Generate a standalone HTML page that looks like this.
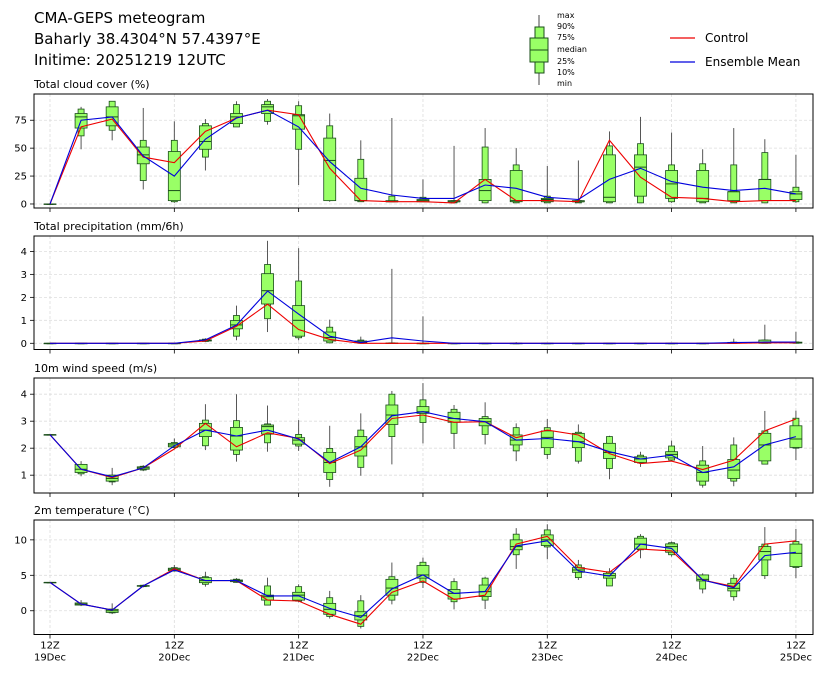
<!DOCTYPE html>
<html><head><meta charset="utf-8"><style>
body{margin:0;background:#fff;font-family:"Liberation Sans","DejaVu Sans",sans-serif}
svg text{font-family:"DejaVu Sans","Liberation Sans",sans-serif}
</style></head><body>
<svg id="chart" width="826" height="678" viewBox="0 0 826 678" xmlns="http://www.w3.org/2000/svg">
<text x="34" y="23" font-size="15">CMA-GEPS meteogram</text>
<text x="34" y="44" font-size="15">Baharly 38.4304°N 57.4397°E</text>
<text x="34" y="65" font-size="15">Initime: 20251219 12UTC</text>
<g>
<line x1="539" y1="15" x2="539" y2="85" stroke="#444" stroke-width="1"/>
<rect x="535" y="27" width="9" height="46" fill="#99ff66" stroke="#1a4d1a"/>
<rect x="530" y="38" width="18" height="24" fill="#99ff66" stroke="#1a4d1a"/>
<line x1="530" y1="50" x2="548" y2="50" stroke="#1a4d1a"/>
<g font-size="8">
<text x="557" y="18">max</text><text x="557" y="29">90%</text><text x="557" y="40">75%</text><text x="557" y="52">median</text><text x="557" y="64">25%</text><text x="557" y="75">10%</text><text x="557" y="86">min</text>
</g></g>
<g>
<line x1="670" y1="38" x2="695" y2="38" stroke="#e00" stroke-width="1.2"/>
<text x="705" y="42" font-size="12">Control</text>
<line x1="670" y1="62" x2="695" y2="62" stroke="#00d" stroke-width="1.2"/>
<text x="705" y="66" font-size="12">Ensemble Mean</text>
</g>
<g id="panels"></g>
</svg>
<script>
// time axis: 25 steps of 6h from 12Z 19Dec
const dayLabels = ["19Dec","20Dec","21Dec","22Dec","23Dec","24Dec","25Dec"];
// cloud cover
const ccMin = [0,49,57,13,1,30,69,71,17,2,2,2,2,1,1,1,1,1,1,1,1,1,1,1,1];
const ccP10 = [0,61,66,21,2,42,69,74,49,3,2,2,2,1,1,1,1,1,1,1,2,1,1,1,2];
const ccP25 = [0,68,70,36,3,49,72,81,67,3,3,2,2,2,3,2,2,2,2,7,5,2,3,3,4];
const ccMed = [0,78,78,44,12,56,78,87,79,39,3,2,3,2,12,3,4,2,6,33,18,5,11,22,9];
const ccP75 = [0,81,87,51,47,70,81,89,80,59,23,3,4,3,22,30,5,3,44,44,30,30,11,22,11];
const ccP90 = [0,85,92,57,57,72,89,92,88,70,40,7,6,3,51,35,7,3,52,54,35,36,35,46,15];
const ccMax = [0,87,92,86,74,76,92,94,92,81,57,77,22,52,68,50,34,39,65,78,64,49,68,58,44];
const ccCtl = [0,69,76,42,37,65,77,84,80,32,3,2,2,1,22,3,3,2,57,24,6,5,2,3,3];
const ccMean = [0,75,78,43,25,58,77,84,69,38,14,8,5,5,17,14,6,4,22,32,20,15,12,14,9];
// precipitation
const prMin = [0,0,0,0,0,0.05,0.13,0.49,0.13,0,0,0,0,0,0,0,0,0,0,0,0,0,0,0,0];
const prP10 = [0,0,0,0,0,0.08,0.31,1.07,0.24,0.02,0,0,0,0,0,0,0,0,0,0,0,0,0,0,0];
const prP25 = [0,0,0,0,0,0.1,0.63,1.71,0.31,0.1,0.03,0,0,0,0,0,0,0,0,0,0,0,0,0,0.01];
const prMed = [0,0,0,0,0,0.12,0.8,2.29,1.0,0.25,0.05,0,0,0,0,0,0,0,0,0,0,0,0.02,0.02,0.03];
const prP75 = [0,0,0,0,0,0.15,0.99,3.03,1.64,0.49,0.1,0.01,0,0,0,0,0,0,0,0,0,0,0.04,0.14,0.05];
const prP90 = [0,0,0,0,0,0.18,1.21,3.43,2.71,0.7,0.14,0.02,0,0,0,0,0,0,0,0,0,0,0.05,0.14,0.06];
const prMax = [0,0,0,0,0,0.22,1.64,4.46,4.14,1.03,0.29,3.24,1.17,0,0,0.05,0,0,0,0,0,0,0.2,0.81,0.5];
const prCtl = [0,0,0,0,0,0.1,0.74,1.7,0.6,0.17,0,0,0,0,0,0,0,0,0,0,0,0,0,0.02,0.02];
const prMean = [0,0,0,0,0,0.15,0.79,2.27,1.27,0.31,0.03,0.24,0.1,0,0,0,0,0,0,0,0,0,0.03,0.05,0.05];
// wind speed
const wsMin = [2.5,0.96,0.63,1.15,1.99,1.93,1.5,1.87,1.9,0.57,0.98,1.4,2.18,1.97,2.14,1.52,1.6,1.43,0.85,1.31,1.52,0.54,0.59,1.41,1.56];
const wsP10 = [2.5,1.05,0.75,1.19,2.02,2.09,1.77,2.2,2.08,0.84,1.29,2.43,2.95,2.55,2.51,1.9,1.77,1.52,1.25,1.45,1.56,0.63,0.78,1.41,2.0];
const wsP25 = [2.5,1.1,0.78,1.22,2.05,2.43,1.93,2.52,2.15,1.1,1.71,2.88,3.29,2.96,2.83,2.12,2.02,2.02,1.62,1.47,1.64,0.78,0.88,1.53,2.03];
const wsMed = [2.5,1.22,0.88,1.27,2.12,2.67,2.45,2.8,2.3,1.47,2.05,3.23,3.35,3.1,2.98,2.3,2.4,2.24,1.84,1.6,1.77,1.1,1.19,2.12,2.34];
const wsP75 = [2.5,1.4,1.0,1.31,2.18,2.92,2.77,2.86,2.39,1.84,2.43,3.6,3.54,3.33,3.1,2.49,2.64,2.55,2.18,1.68,1.87,1.37,1.58,2.55,2.83];
const wsP90 = [2.5,1.4,1.0,1.33,2.21,3.04,3.02,2.9,2.51,1.99,2.67,4.0,3.79,3.44,3.17,2.76,2.76,2.59,2.43,1.74,2.08,1.53,2.12,2.64,3.11];
const wsMax = [2.5,1.52,1.27,1.37,2.36,3.63,4.0,3.58,3.04,2.83,3.29,4.12,4.41,3.6,3.7,2.92,3.08,2.88,2.46,1.87,2.28,2.08,2.4,3.38,3.39];
const wsCtl = [2.5,1.22,0.91,1.27,1.97,2.92,2.05,2.57,2.36,1.43,1.93,3.1,3.23,2.96,2.98,2.39,2.67,2.49,1.8,1.43,1.52,1.21,1.56,2.64,3.08];
const wsMean = [2.5,1.22,0.94,1.27,2.09,2.67,2.45,2.67,2.34,1.47,2.05,3.2,3.35,3.1,2.98,2.3,2.36,2.24,1.87,1.6,1.74,1.1,1.31,2.12,2.43];
// temperature
const tMin = [4,0.66,-0.47,3.3,5.52,3.4,3.96,0.8,1.2,-1.1,-2.5,0.9,3.2,0.2,0.24,5.9,7.26,4.34,3.5,7.4,7.64,2.45,1.42,4.48,4.58];
const tP10 = [4,0.8,-0.3,3.4,5.6,3.73,4.0,0.8,1.35,-0.8,-2.2,1.5,4.0,1.27,1.5,7.9,9.0,4.67,3.5,8.6,7.9,3.07,1.98,4.95,6.1];
const tP25 = [4,0.8,-0.24,3.45,5.66,3.96,4.1,1.5,1.5,-0.5,-1.3,2.2,4.6,1.65,2.0,8.6,9.2,5.42,4.6,8.7,8.25,4.2,2.8,7.17,6.23];
const tMed = [4,0.94,0,3.5,5.85,4.25,4.25,1.98,2.2,0.2,-0.7,3.2,5.05,2.45,2.7,9.05,10.0,5.75,4.95,9.4,9.05,4.43,3.16,8.35,8.1];
const tP75 = [4,1.1,0.2,3.55,6.0,4.67,4.34,2.2,2.6,1.04,-0.14,4.43,6.37,3.0,3.63,10.0,10.7,6.08,5.28,10.24,9.43,5.05,3.87,9.05,9.4];
const tP90 = [4,1.1,0.24,3.6,6.08,4.8,4.45,3.5,3.4,1.84,1.4,4.8,6.84,4.1,4.6,10.8,11.4,6.46,5.5,10.5,9.6,5.05,4.58,9.4,9.76];
const tMax = [4,1.5,1.04,3.7,6.46,5.5,4.6,4.67,3.73,2.8,2.2,6.8,7.5,4.58,4.8,11.65,12.2,7.17,6.0,10.8,9.76,5.28,5.14,11.8,11.55];
const tCtl = [4,0.94,0.1,3.5,5.9,4.25,4.25,1.5,1.37,-0.5,-1.9,2.6,4.2,1.6,2.2,9.4,10.5,6.08,5.42,8.7,8.44,4.34,3.4,9.4,9.86];
const tMean = [4,0.94,0.1,3.5,5.75,4.25,4.25,2.1,2.1,0.33,-0.94,3.07,5.05,2.45,2.7,9.15,9.86,5.6,4.9,9.4,8.8,4.34,3.25,7.78,8.25];

const NS="http://www.w3.org/2000/svg";
const root=document.getElementById('panels');
const X0=34,X1=813;
function xs(i){return 50+i*31.08;}
function mk(tag,attrs,parent){const e=document.createElementNS(NS,tag);for(const k in attrs)e.setAttribute(k,attrs[k]);parent.appendChild(e);return e;}

const panels=[
 {name:"cloud",title:"Total cloud cover (%)",top:94,bot:208,lo:-3.6,hi:98.5,ticks:[0,25,50,75],d:[ccMin,ccP10,ccP25,ccMed,ccP75,ccP90,ccMax,ccCtl,ccMean]},
 {name:"precip",title:"Total precipitation (mm/6h)",top:236,bot:349.5,lo:-0.27,hi:4.67,ticks:[0,1,2,3,4],d:[prMin,prP10,prP25,prMed,prP75,prP90,prMax,prCtl,prMean]},
 {name:"wind",title:"10m wind speed (m/s)",top:378,bot:493,lo:0.34,hi:4.6,ticks:[1,2,3,4],d:[wsMin,wsP10,wsP25,wsMed,wsP75,wsP90,wsMax,wsCtl,wsMean]},
 {name:"temp",title:"2m temperature (°C)",top:520,bot:634.5,lo:-3.35,hi:12.8,ticks:[0,5,10],d:[tMin,tP10,tP25,tMed,tP75,tP90,tMax,tCtl,tMean]}
];

panels.forEach((p,pi)=>{
 const g=mk('g',{},root);
 
 
 const ys=v=>p.bot-(v-p.lo)/(p.hi-p.lo)*(p.bot-p.top);
 const t=mk('text',{x:34,y:p.top-6,'font-size':11},g);t.textContent=p.title;
 
 
 p.ticks.forEach(v=>{
  mk('line',{x1:X0,x2:X1,y1:ys(v),y2:ys(v),stroke:'#ddd','stroke-dasharray':'3,2','stroke-width':0.8},g);
  mk('line',{x1:X0-4,x2:X0,y1:ys(v),y2:ys(v),stroke:'#000','stroke-width':0.8},g);
  const tl=mk('text',{x:X0-7,y:ys(v)+3.5,'font-size':10,'text-anchor':'end'},g);tl.textContent=v;
  
  
 });
 dayLabels.forEach((d,k)=>{
  const x=xs(k*4);
  mk('line',{x1:x,x2:x,y1:p.top,y2:p.bot,stroke:'#ddd','stroke-dasharray':'3,2','stroke-width':0.8},g);
  mk('line',{x1:x,x2:x,y1:p.bot,y2:p.bot+4,stroke:'#000','stroke-width':0.8},g);
  if(pi===3){
   const a=mk('text',{x:x,y:p.bot+14,'font-size':10,'text-anchor':'middle'},g);a.textContent='12Z';
   
   
   const b=mk('text',{x:x,y:p.bot+26,'font-size':10,'text-anchor':'middle'},g);b.textContent=d;
   
   
  }
 });
 const [mn,p10,p25,md,p75,p90,mx,ctl,mean]=p.d;
 for(let i=0;i<mn.length;i++){
  const x=xs(i);
  const bg=mk('g',{},g);
  
  
  mk('line',{x1:x,x2:x,y1:ys(mx[i]),y2:ys(mn[i]),stroke:'#444','stroke-width':0.9},bg);
  mk('rect',{x:x-3,y:ys(p90[i]),width:6,height:Math.max(0.5,ys(p10[i])-ys(p90[i])),fill:'#99ff66',stroke:'#1a4d1a','stroke-width':0.8},bg);
  mk('rect',{x:x-6,y:ys(p75[i]),width:12,height:Math.max(0.5,ys(p25[i])-ys(p75[i])),fill:'#99ff66',stroke:'#1a4d1a','stroke-width':0.8},bg);
  mk('line',{x1:x-6,x2:x+6,y1:ys(md[i]),y2:ys(md[i]),stroke:'#1a4d1a','stroke-width':1},bg);
 }
 const pts=a=>a.map((v,i)=>xs(i).toFixed(1)+','+ys(v).toFixed(1)).join(' ');
 const lc=mk('polyline',{points:pts(ctl),fill:'none',stroke:'#e00','stroke-width':1.1},g);
 
 
 const lm=mk('polyline',{points:pts(mean),fill:'none',stroke:'#00d','stroke-width':1.1},g);
 
 
 mk('rect',{x:X0,y:p.top,width:X1-X0,height:p.bot-p.top,fill:'none',stroke:'#000','stroke-width':1},g);
});
</script>
</body></html>
